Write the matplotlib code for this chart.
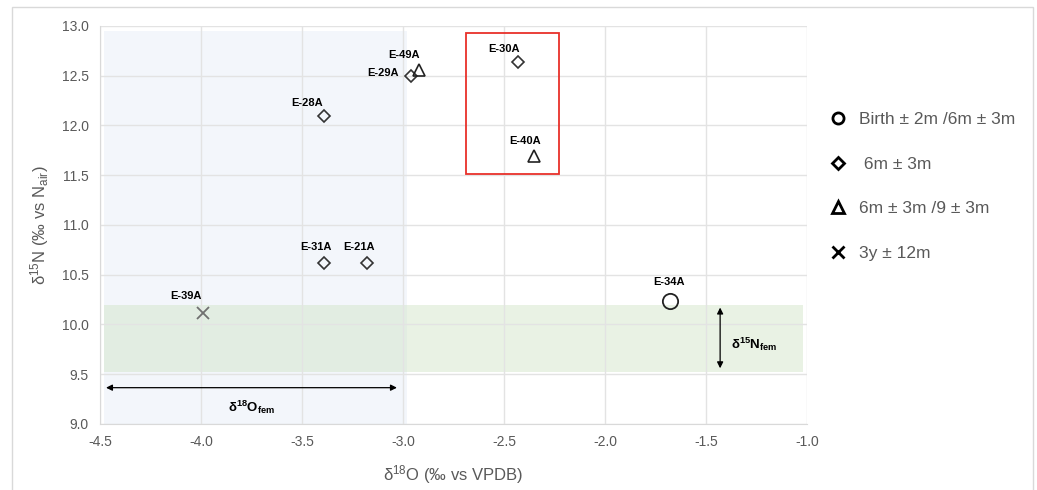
import matplotlib
matplotlib.use("Agg")
import matplotlib.pyplot as plt
from matplotlib.patches import Rectangle
from matplotlib.lines import Line2D

plt.rcParams['font.family'] = ['Liberation Sans', 'DejaVu Sans']
plt.rcParams['mathtext.fontset'] = 'custom'
plt.rcParams['mathtext.rm'] = 'Liberation Sans'
plt.rcParams['mathtext.it'] = 'Liberation Sans'
plt.rcParams['mathtext.bf'] = 'Liberation Sans:bold'

# data
samples = ["E-28A", "E-29A", "E-49A", "E-30A", "E-40A", "E-31A", "E-21A", "E-39A", "E-34A"]
d18o = [-3.39, -2.96, -2.92, -2.43, -2.35, -3.39, -3.18, -3.99, -1.68]
d15n = [12.10, 12.50, 12.56, 12.64, 11.69, 10.62, 10.62, 10.12, 10.24]
groups = ["6m", "6m", "6m9", "6m", "6m9", "6m", "6m", "3y", "birth"]

legend_labels = ["Birth \u00b1 2m /6m \u00b1 3m", " 6m \u00b1 3m", "6m \u00b1 3m /9 \u00b1 3m", "3y \u00b1 12m"]
legend_groups = ["birth", "6m", "6m9", "3y"]

x_ticks = [-4.5, -4.0, -3.5, -3.0, -2.5, -2.0, -1.5, -1.0]
y_ticks = [9.0, 9.5, 10.0, 10.5, 11.0, 11.5, 12.0, 12.5, 13.0]

# reference ranges (female)
o_fem = (-4.48, -2.98)
n_fem = (9.52, 10.2)

# label offsets in pixels from the marker
label_off = {"E-28A": (-17, 13), "E-29A": (-28, 3), "E-49A": (-15, 15), "E-30A": (-14, 13),
             "E-40A": (-9, 15), "E-31A": (-8, 16), "E-21A": (-8, 16), "E-39A": (-17, 17),
             "E-34A": (-1, 19)}

styles = {"birth": dict(marker="o", ms=11, mfc="none", mec="#222222", mew=1.3),
          "6m": dict(marker="D", ms=6.5, mfc="none", mec="#333333", mew=1.2),
          "6m9": dict(marker="^", ms=9, mfc="none", mec="#222222", mew=1.2),
          "3y": dict(marker="x", ms=9, mfc="none", mec="#707070", mew=1.3)}

fig = plt.figure(figsize=(10.37, 4.9), dpi=100)
ax = fig.add_axes([0.0964, 0.1347, 0.6818, 0.8123])

# shaded ranges
ax.add_patch(Rectangle((o_fem[0], 9.0), o_fem[1] - o_fem[0], 12.95 - 9.0,
                       facecolor="#dfe8f5", alpha=0.35, edgecolor="none", zorder=0))
ax.add_patch(Rectangle((-4.48, n_fem[0]), -1.02 + 4.48, n_fem[1] - n_fem[0],
                       facecolor="#cfe3c4", alpha=0.45, edgecolor="none", zorder=0))

# red box
ax.add_patch(Rectangle((-2.69, 11.51), 0.46, 1.42, facecolor="none", edgecolor="#e8302a",
                       lw=1.3, zorder=3))

for name, x, y, g in zip(samples, d18o, d15n, groups):
    ax.plot([x], [y], linestyle="none", zorder=4, **styles[g])
    dx, dy = label_off[name]
    ax.annotate(name, (x, y), xytext=(dx, dy), textcoords="offset pixels",
                ha="center", va="center", fontsize=8, fontweight="bold", color="black")

# arrows
ax.annotate("", xy=(-3.03, 9.365), xytext=(-4.47, 9.365),
            arrowprops=dict(arrowstyle="<|-|>", color="black", lw=0.9, mutation_scale=9,
                            shrinkA=0, shrinkB=0))
ax.text(-3.75, 9.17, "\u03b4$^{\\mathbf{18}}$O$_{\\mathbf{fem}}$", ha="center", va="center",
        fontsize=9.5, fontweight="bold")
ax.annotate("", xy=(-1.43, 10.17), xytext=(-1.43, 9.56),
            arrowprops=dict(arrowstyle="<|-|>", color="black", lw=0.9, mutation_scale=9,
                            shrinkA=0, shrinkB=0))
ax.text(-1.375, 9.8, "\u03b4$^{\\mathbf{15}}$N$_{\\mathbf{fem}}$", ha="left", va="center",
        fontsize=9.5, fontweight="bold")

ax.set_xlim(-4.5, -1.0)
ax.set_ylim(9.0, 13.0)
ax.set_xticks(x_ticks)
ax.set_yticks(y_ticks)
ax.set_xticklabels(["%.1f" % v for v in x_ticks])
ax.set_yticklabels(["%.1f" % v for v in y_ticks])
ax.tick_params(length=0, labelsize=10, colors="#595959", pad=8)
ax.grid(True, color="#e3e3e3", lw=1)
ax.set_axisbelow(True)
for s in ["top", "right"]:
    ax.spines[s].set_visible(False)
for s in ["left", "bottom"]:
    ax.spines[s].set_color("#d9d9d9")
ax.set_xlabel("\u03b4$^{18}$O (\u2030 vs VPDB)", fontsize=12, color="#595959", labelpad=10)
ax.set_ylabel("\u03b4$^{15}$N (\u2030 vs N$_{air}$)", fontsize=12, color="#595959", labelpad=8)

handles = []
for g in legend_groups:
    st = dict(styles[g])
    st["mec"] = "black"
    st["mew"] = 2.0
    st["ms"] = 6 if g == "6m" else 8
    handles.append(Line2D([], [], linestyle="none", **st))
fig.legend(handles, legend_labels, loc="upper left", bbox_to_anchor=(0.783, 0.804),
           frameon=False, fontsize=12.5, labelcolor="#595959", labelspacing=1.71,
           handletextpad=0.6, handlelength=1.2)

# outer frame
fig.add_artist(Rectangle((0.012, -0.1), 0.984, 1.085, transform=fig.transFigure,
                         facecolor="none", edgecolor="#d9d9d9", lw=1))

fig.savefig("out.png", dpi=100)
